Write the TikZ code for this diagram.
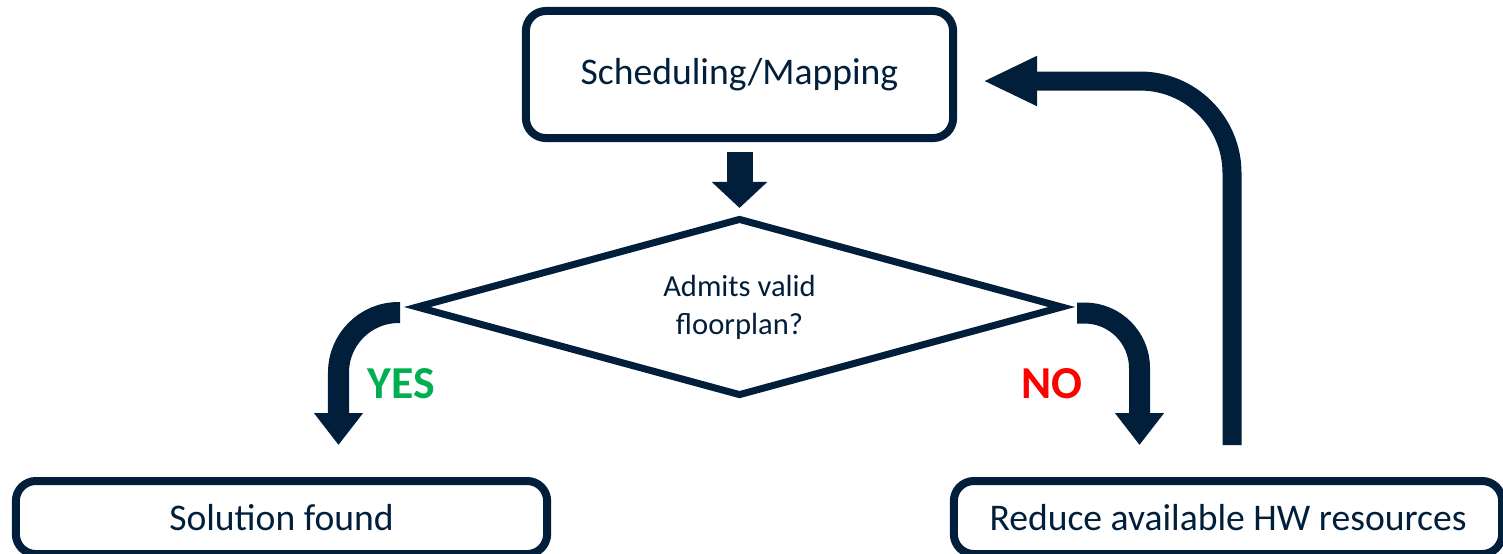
\documentclass[tikz,border=0pt]{standalone}
\usepackage{fontspec}
\setmainfont{Carlito}
\usetikzlibrary{shapes.geometric,arrows.meta}
\definecolor{navy}{RGB}{1,31,59}
\definecolor{yesgreen}{RGB}{0,176,80}
\definecolor{nored}{RGB}{255,0,0}

\begin{document}
\begin{tikzpicture}[
	x=0.01cm, y=-0.01cm,
	box/.style={ draw=navy, line width=0.08cm, rounded corners=0.2cm, text=navy, inner sep=0pt, font=\fontsize{10.7}{13}\selectfont },
	decision/.style={ diamond, aspect=3.63, draw=navy, line width=0.07cm, text=navy, align=center, inner sep=0pt, minimum width=6.47cm, minimum height=1.78cm, font=\fontsize{8.7}{10.8}\selectfont },
	flow/.style={ navy, line width=0.21cm, -{Triangle[length=0.32cm,width=0.47cm]} },
	answer/.style={ inner sep=0pt, font=\fontsize{13}{15}\selectfont\bfseries }
]

\useasboundingbox (0,0) rectangle (1503,553);

\node[box, minimum width=4.27cm, minimum height=1.27cm] at (739.5,74.5) (sched) {Scheduling/Mapping};
\node[decision] at (739.5,307) (valid) {Admits valid\\floorplan?};
\node[box, minimum width=5.31cm, minimum height=0.73cm] at (281.5,517.5) (found) {Solution found};
\node[box, minimum width=5.48cm, minimum height=0.73cm] at (1228,517.5) (reduce) {Reduce available HW resources};

\node[answer, text=yesgreen] at (401,384) (yes) {YES};
\node[answer, text=nored] at (1052,384) (no) {NO};

\coordinate (yesfrom) at (400,312.5);
\coordinate (yesto) at (338.5,445);
\coordinate (nofrom) at (1077,313);
\coordinate (noto) at (1139.5,445);
\coordinate (backfrom) at (1232,445);
\coordinate (backto) at (983,81);

\draw[navy, line width=0.26cm, -{Triangle[length=0.26cm,width=0.54cm]}] ([yshift=-0.1cm]sched.south) -- ([yshift=0.065cm]valid.north);
\draw[flow, rounded corners=0.6cm] (yesfrom) -| (yesto);
\draw[flow, rounded corners=0.55cm] (nofrom) -| (noto);
\draw[flow, line width=0.19cm, -{Triangle[length=0.54cm,width=0.46cm]}, rounded corners=0.92cm] (backfrom) |- (backto);

\end{tikzpicture}
\end{document}
